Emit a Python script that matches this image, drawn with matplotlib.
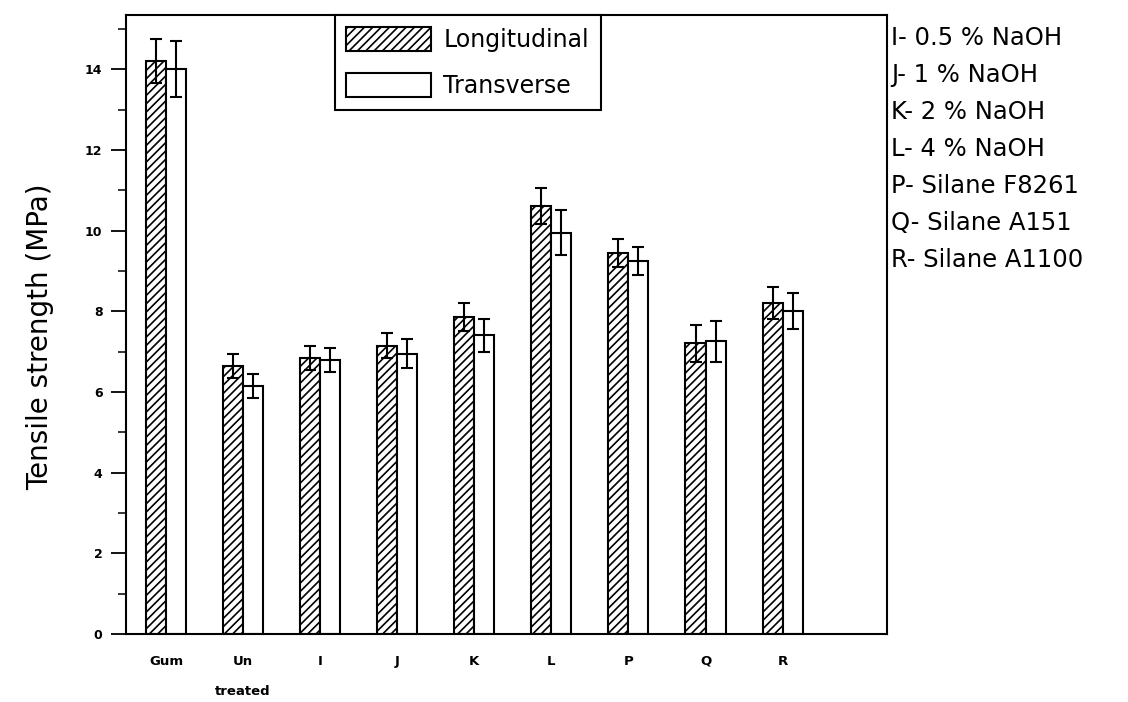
import numpy as np
import matplotlib.pyplot as plt
from matplotlib.ticker import MultipleLocator

plt.rcParams['font.family'] = ['DejaVu Sans']
plt.rcParams['hatch.linewidth'] = 1.2

categories = ['Gum', 'Un\n\ntreated', 'I', 'J', 'K', 'L', 'P', 'Q', 'R']
longitudinal = [14.2, 6.65, 6.85, 7.15, 7.85, 10.6, 9.45, 7.2, 8.2]
longitudinal_err = [0.55, 0.3, 0.3, 0.3, 0.35, 0.45, 0.35, 0.45, 0.4]
transverse = [14.0, 6.15, 6.8, 6.95, 7.4, 9.95, 9.25, 7.25, 8.0]
transverse_err = [0.7, 0.3, 0.3, 0.35, 0.4, 0.55, 0.35, 0.5, 0.45]
notes = ['I- 0.5 % NaOH', 'J- 1 % NaOH', 'K- 2 % NaOH', 'L- 4 % NaOH',
         'P- Silane F8261', 'Q- Silane A151', 'R- Silane A1100']

fig = plt.figure(figsize=(11.28, 7.02), dpi=100)
ax = fig.add_axes([0.1117, 0.097, 0.675, 0.882])

x = np.arange(len(categories))
w = 0.26
err_kw = dict(ecolor='black', elinewidth=1.5, capsize=4, capthick=1.5)
ax.bar(x - w / 2, longitudinal, w, yerr=longitudinal_err, color='white',
       edgecolor='black', hatch='////', linewidth=1.5, label='Longitudinal', error_kw=err_kw)
ax.bar(x + w / 2, transverse, w, yerr=transverse_err, color='white',
       edgecolor='black', linewidth=1.5, label='Transverse', error_kw=err_kw)

ax.set_xlim(-0.52, 9.36)
ax.set_ylim(0, 15.35)
ax.set_xticks(x)
ax.set_xticklabels(categories, fontsize=9.5, fontweight='bold', linespacing=1.2)
ax.tick_params(axis='x', length=0, pad=15)
ax.yaxis.set_major_locator(MultipleLocator(2))
ax.yaxis.set_minor_locator(MultipleLocator(1))
ax.tick_params(axis='y', which='major', length=11, width=1.3, labelsize=9, direction='out', pad=6)
ax.tick_params(axis='y', which='minor', length=6, width=1.1, direction='out')
for lab in ax.get_yticklabels():
    lab.set_fontweight('bold')
for s in ax.spines.values():
    s.set_linewidth(1.5)

ax.set_ylabel('Tensile strength (MPa)', fontsize=20)
ax.yaxis.set_label_coords(-0.095, 0.48)

leg = ax.legend(loc='upper left', bbox_to_anchor=(0.274, 1.0), fontsize=17,
                fancybox=False, edgecolor='black', framealpha=1,
                handlelength=3.6, handleheight=1.2, handletextpad=0.5,
                labelspacing=0.9, borderaxespad=0.0, borderpad=0.5)
leg.get_frame().set_linewidth(1.5)

for i, t in enumerate(notes):
    fig.text(0.790, 0.946 - i * 0.0527, t, fontsize=17.5, va='center', ha='left')

fig.savefig('out.png', dpi=100)
